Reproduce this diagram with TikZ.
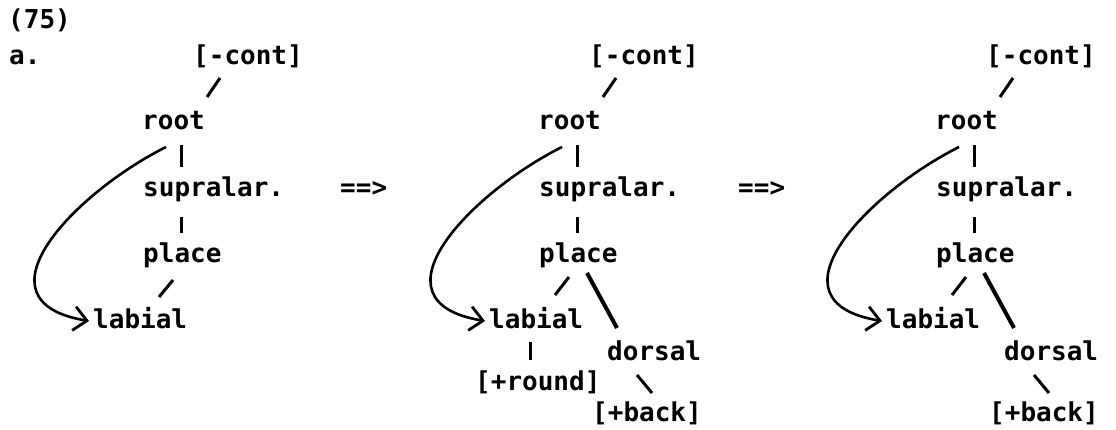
\documentclass[tikz,border=0pt]{standalone}
\usepackage{fontspec}
\setmonofont{DejaVu Sans Mono}
\usetikzlibrary{arrows.meta}

\begin{document}
\begin{tikzpicture}[x=1pt,y=-1pt,
  tier/.style={anchor=west,inner sep=0pt,text height=14pt,text depth=0pt,
    font=\ttfamily\bfseries\fontsize{26}{30}\selectfont},
  assoc/.style={line width=3pt},
  newlink/.style={line width=4pt},
  spread/.style={line width=2.6pt,-{Straight Barb[length=13pt,width=24pt,line width=2.8pt]}}]
\useasboundingbox (0,0) rectangle (1116,429);

\node[tier] (ex) at (8,21) {(75)};
\node[tier] (sub) at (9,57) {a.};
\node[tier] (impl1) at (340,189) {==>};
\node[tier] (impl2) at (738,189) {==>};

% first tree
\node[tier] (cont1) at (193,57) {[-cont]};
\node[tier] (root1) at (142,122) {root};
\node[tier] (sup1) at (143,189) {supralar.};
\node[tier] (place1) at (143,255) {place};
\node[tier] (lab1) at (93,321) {labial};
\draw[assoc] ([shift={(27,21)}]cont1.west) -- ([shift={(65,-25)}]root1.west);
\draw[assoc] ([shift={(39,23)}]root1.west) -- ([shift={(38,-22)}]sup1.west);
\draw[assoc] ([shift={(38,28)}]sup1.west) -- ([shift={(38,-22)}]place1.west);
\draw[assoc] ([shift={(30,25)}]place1.west) -- ([shift={(66,-24)}]lab1.west);
\draw[spread] ([shift={(24,25)}]root1.west) .. controls +(-90,45) and +(-120,-20) .. ([xshift=-4]lab1.west);

% second tree
\begin{scope}[xshift=396pt]
\node[tier] (cont2) at (193,57) {[-cont]};
\node[tier] (root2) at (142,122) {root};
\node[tier] (sup2) at (143,189) {supralar.};
\node[tier] (place2) at (143,255) {place};
\node[tier] (lab2) at (93,321) {labial};
\node[tier] (dors2) at (211,353) {dorsal};
\node[tier] (round2) at (79,383) {[+round]};
\node[tier] (back2) at (196,414) {[+back]};
\draw[assoc] ([shift={(27,21)}]cont2.west) -- ([shift={(65,-25)}]root2.west);
\draw[assoc] ([shift={(39,23)}]root2.west) -- ([shift={(38,-22)}]sup2.west);
\draw[assoc] ([shift={(38,28)}]sup2.west) -- ([shift={(38,-22)}]place2.west);
\draw[assoc] ([shift={(30,22)}]place2.west) -- ([shift={(66,-26)}]lab2.west);
\draw[newlink] ([shift={(48,18)}]place2.west) -- ([shift={(10,-25)}]dors2.west);
\draw[assoc] ([shift={(41,21)}]lab2.west) -- ([shift={(55,-23)}]round2.west);
\draw[assoc] ([shift={(30,22)}]dors2.west) -- ([shift={(60,-21)}]back2.west);
\draw[spread] ([shift={(24,25)}]root2.west) .. controls +(-90,45) and +(-120,-20) .. ([xshift=-4]lab2.west);
\end{scope}

% third tree
\begin{scope}[xshift=793pt]
\node[tier] (cont3) at (193,57) {[-cont]};
\node[tier] (root3) at (142,122) {root};
\node[tier] (sup3) at (143,189) {supralar.};
\node[tier] (place3) at (143,255) {place};
\node[tier] (lab3) at (93,321) {labial};
\node[tier] (dors3) at (211,353) {dorsal};
\node[tier] (back3) at (196,414) {[+back]};
\draw[assoc] ([shift={(27,21)}]cont3.west) -- ([shift={(65,-25)}]root3.west);
\draw[assoc] ([shift={(39,23)}]root3.west) -- ([shift={(38,-22)}]sup3.west);
\draw[assoc] ([shift={(38,28)}]sup3.west) -- ([shift={(38,-22)}]place3.west);
\draw[assoc] ([shift={(30,22)}]place3.west) -- ([shift={(66,-26)}]lab3.west);
\draw[newlink] ([shift={(48,18)}]place3.west) -- ([shift={(10,-25)}]dors3.west);
\draw[assoc] ([shift={(30,22)}]dors3.west) -- ([shift={(60,-21)}]back3.west);
\draw[spread] ([shift={(24,25)}]root3.west) .. controls +(-90,45) and +(-120,-20) .. ([xshift=-4]lab3.west);
\end{scope}
\end{tikzpicture}
\end{document}
